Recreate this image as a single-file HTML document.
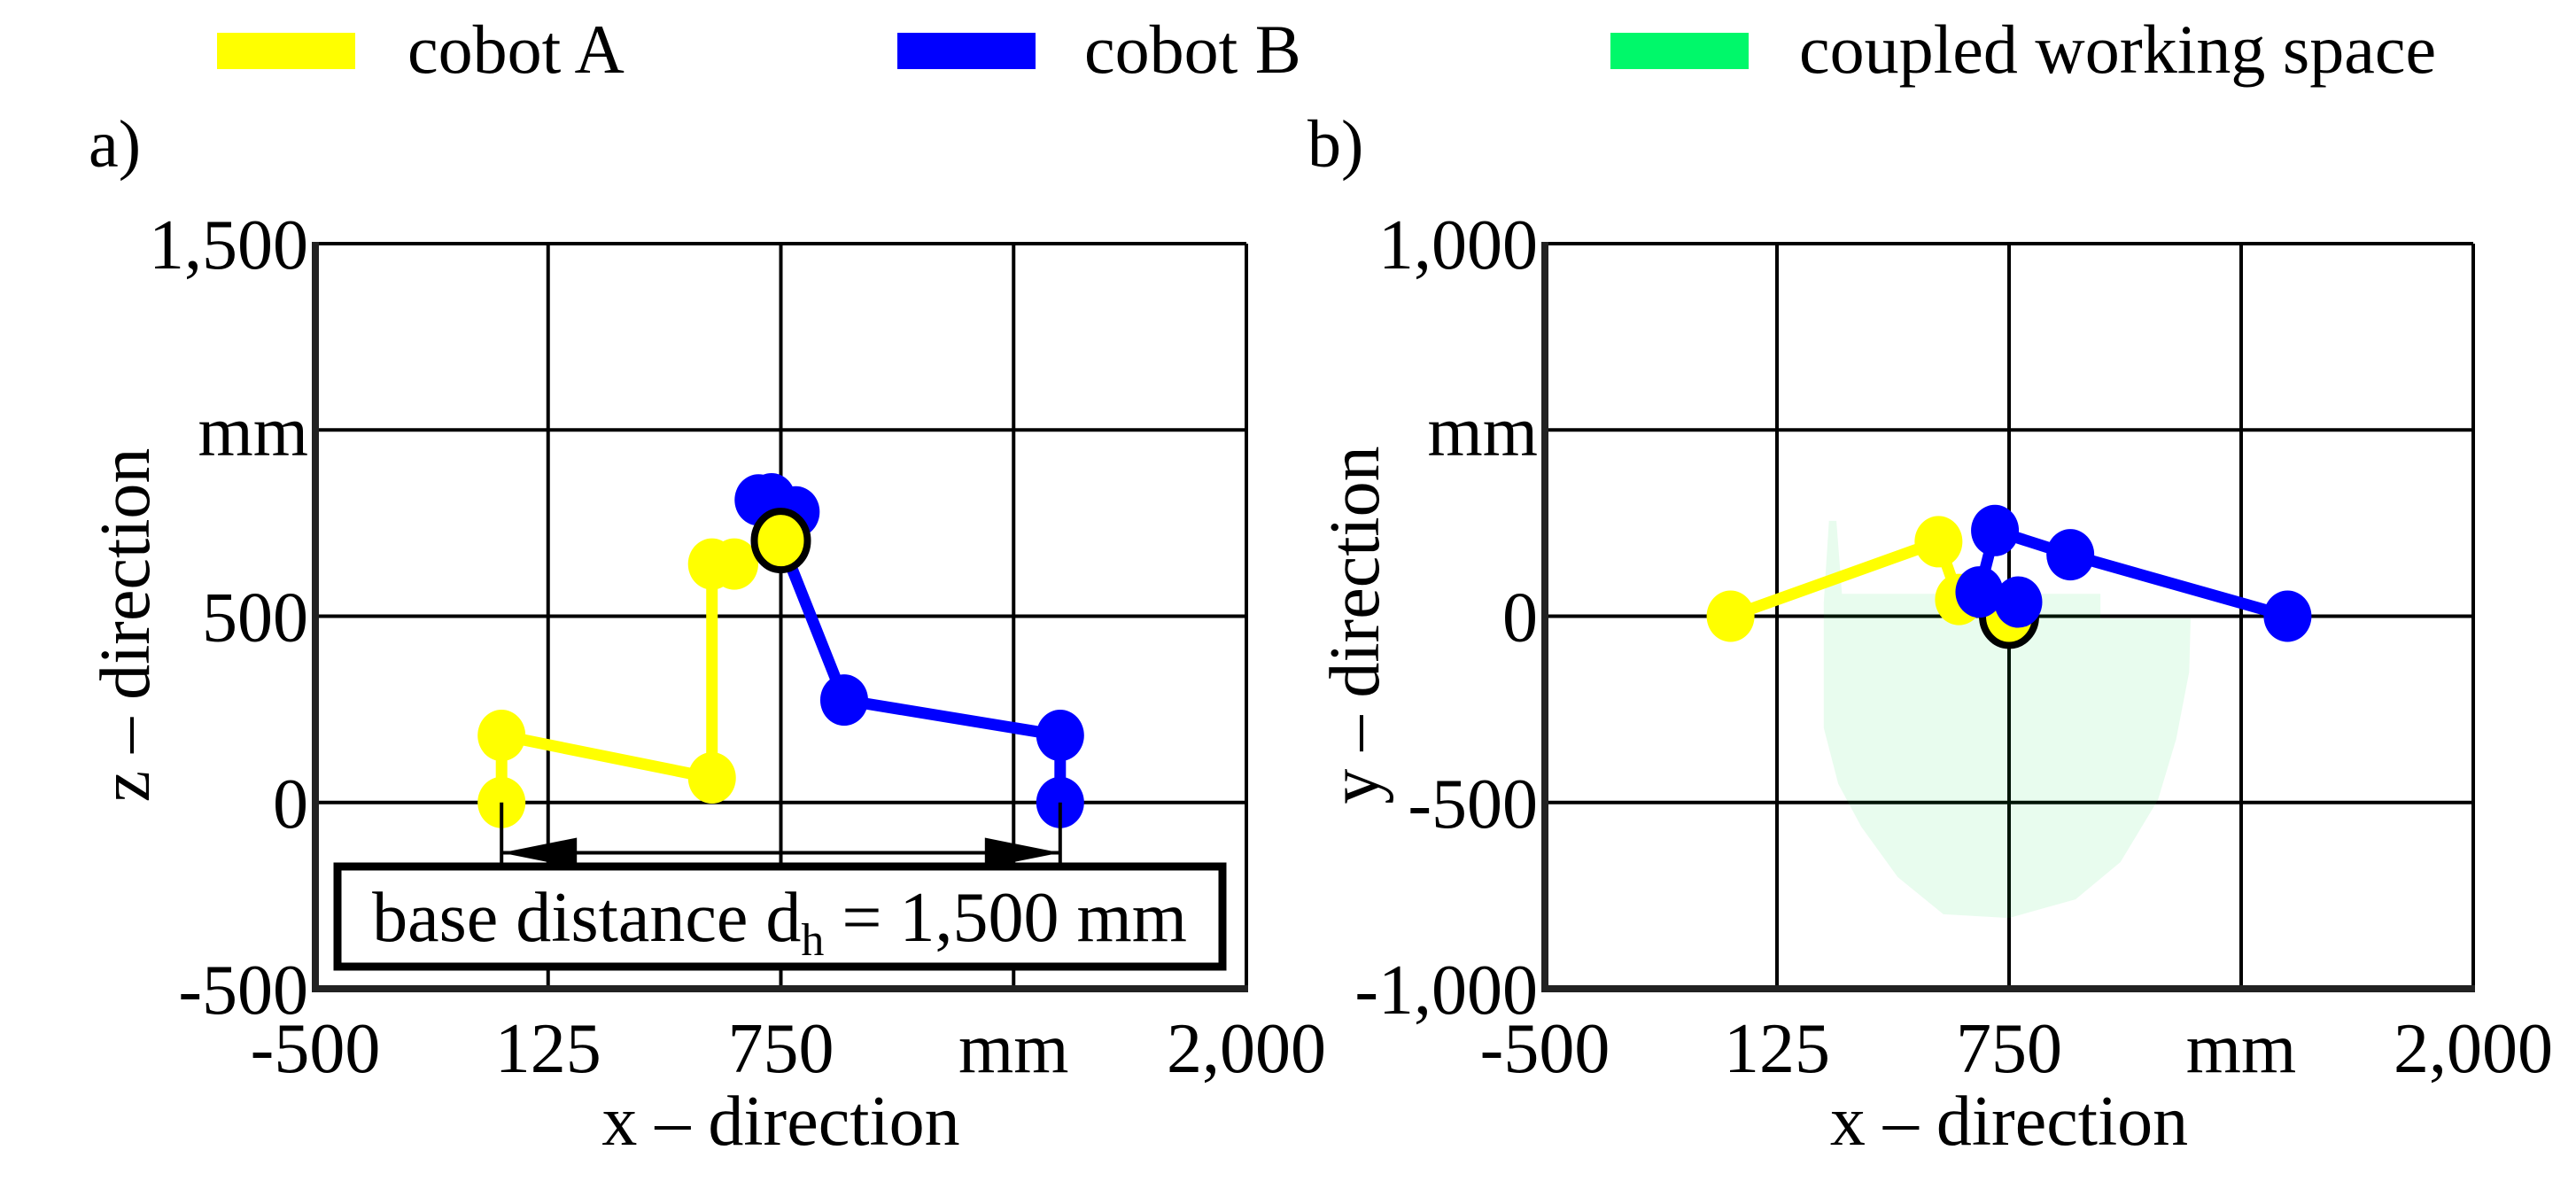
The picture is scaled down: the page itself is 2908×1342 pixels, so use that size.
<!DOCTYPE html>
<html><head><meta charset="utf-8"><style>
html,body{margin:0;padding:0;background:#fff;}
svg{display:block;font-family:"Liberation Serif",serif;}
</style></head><body>
<svg id="chart" width="2908" height="1342" viewBox="0 0 2908 1342" xmlns="http://www.w3.org/2000/svg">
<g>
<rect x="245" y="37" width="156" height="41" fill="#ffff00"/>
<text x="460" y="82" font-size="78">cobot A</text>
<rect x="1013" y="37" width="156" height="41" fill="#0000ff"/>
<text x="1224" y="82" font-size="78">cobot B</text>
<rect x="1818" y="37" width="156" height="41" fill="#00f86a"/>
<text x="2031" y="82" font-size="78">coupled working space</text>
</g>
<text x="100" y="188" font-size="76">a)</text>
<text x="1476" y="188" font-size="76">b)</text>
</svg>
<script>
const xTicks=[-500,125,750,1375,2000];
const xTickLabels=["-500","125","750","mm","2,000"];
const zTicks=[-500,0,500,1000,1500];
const zTickLabels=["-500","0","500","mm","1,500"];
const yTicks=[-1000,-500,0,500,1000];
const yTickLabels=["-1,000","-500","0","mm","1,000"];
// panel a (x-z)
const aYellowX=[0,0,565,565,625,750];
const aYellowZ=[0,180,66,640,640,703];
const aBlueX=[1500,1500,920,750,790,725,690];
const aBlueZ=[0,180,275,703,780,815,812];
const aEndX=[750];const aEndZ=[703];
// panel b (x-y)
const bYellowX=[0,560,615,750];
const bYellowY=[0,200,45,0];
const bBlueX=[1500,915,712,670,775];
const bBlueY=[0,165,230,65,38];
const bEndX=[750];const bEndY=[0];
const spaceX=[251,265,285,300,996,996,1239,1235,1200,1151,1050,929,750,573,450,352,290,251];
const spaceY=[37,256,256,60,60,-6,-6,-150,-330,-493,-660,-760,-810,-800,-700,-565,-450,-300];

const NS="http://www.w3.org/2000/svg";
const svg=document.getElementById('chart');
function el(t,a,p){const e=document.createElementNS(NS,t);for(const k in a)e.setAttribute(k,a[k]);(p||svg).appendChild(e);return e;}

function panel(name,L,R,T,B,xmin,xmax,ymin,ymax,yt,ytl,xtitle,ytitle){
  const g=el('g',{});
  
  
  const sx=v=>L+(v-xmin)/(xmax-xmin)*(R-L);
  const sy=v=>B-(v-ymin)/(ymax-ymin)*(B-T);
  xTicks.forEach((v,i)=>{
    const l=el('line',{x1:sx(v),x2:sx(v),y1:T,y2:B,stroke:'#000','stroke-width':4},g);
    
    
    const t=el('text',{x:sx(v),y:1210,'font-size':80,'text-anchor':'middle'},g);
    t.textContent=xTickLabels[i];
    
    
  });
  yt.forEach((v,i)=>{
    const l=el('line',{x1:L,x2:R,y1:sy(v),y2:sy(v),stroke:'#000','stroke-width':4},g);
    
    
    const t=el('text',{x:L-8,y:sy(v)+28,'font-size':80,'text-anchor':'end'},g);
    t.textContent=ytl[i];
    
    
  });
  const ax=el('path',{d:`M${L} ${T-2}V${B}H${R+2}`,stroke:'#222','stroke-width':8,fill:'none'},g);
  
  
  const xt=el('text',{x:(L+R)/2,y:1292,'font-size':80,'text-anchor':'middle'},g);
  xt.textContent=xtitle;
  
  
  const cx=L-188,cy=(T+B)/2+10;
  const yl=el('text',{x:cx,y:cy,'font-size':80,'text-anchor':'middle',transform:`rotate(-90 ${cx} ${cy})`},g);
  yl.textContent=ytitle;
  
  
  return {g,sx,sy};
}
function chain(p,xs,ys,color,name){
  const pts=xs.map((x,i)=>p.sx(x)+','+p.sy(ys[i])).join(' ');
  const pl=el('polyline',{points:pts,fill:'none',stroke:color,'stroke-width':13,'stroke-linejoin':'round'},p.g);
  
  
  xs.forEach((x,i)=>{
    const c=el('ellipse',{cx:p.sx(x),cy:p.sy(ys[i]),rx:27,ry:29,fill:color},p.g);
    
    
  });
}
function endpoint(p,xs,ys){
  const c=el('ellipse',{cx:p.sx(xs[0]),cy:p.sy(ys[0]),rx:30,ry:33,fill:'#ffff00',stroke:'#000','stroke-width':8},p.g);
  
  
}

const pa=panel('panel-a-xz',356,1407,275,1116,-500,2000,-500,1500,zTicks,zTickLabels,'x – direction','z – direction');
chain(pa,aYellowX,aYellowZ,'#ffff00','cobot-a');
chain(pa,aBlueX,aBlueZ,'#0000ff','cobot-b');
endpoint(pa,aEndX,aEndZ);
const y0=pa.sy(-135),xa=pa.sx(0),xb=pa.sx(1500);
const dim=el('g',{},pa.g);


el('line',{x1:xa,x2:xa,y1:pa.sy(0),y2:y0+45,stroke:'#000','stroke-width':4},dim);
el('line',{x1:xb,x2:xb,y1:pa.sy(0),y2:y0+45,stroke:'#000','stroke-width':4},dim);
el('line',{x1:xa,x2:xb,y1:y0,y2:y0,stroke:'#000','stroke-width':4},dim);
el('polygon',{points:`${xa},${y0} ${xa+85},${y0-17} ${xa+85},${y0+17}`,fill:'#000'},dim);
el('polygon',{points:`${xb},${y0} ${xb-85},${y0-17} ${xb-85},${y0+17}`,fill:'#000'},dim);
const box=el('rect',{x:381,y:978,width:999,height:113,fill:'#fff',stroke:'#000','stroke-width':9},pa.g);


const bt=el('text',{x:880,y:1062,'font-size':80,'text-anchor':'middle'},pa.g);
bt.innerHTML='base distance d<tspan font-size="52" dy="16">h</tspan><tspan dy="-16"> = 1,500 mm</tspan>';



const pb=panel('panel-b-xy',1744,2792,275,1116,-500,2000,-1000,1000,yTicks,yTickLabels,'x – direction','y – direction');
const sp=el('polygon',{points:spaceX.map((x,i)=>pb.sx(x)+','+pb.sy(spaceY[i])).join(' '),fill:'#00e040','fill-opacity':0.09},pb.g);


chain(pb,bYellowX,bYellowY,'#ffff00','cobot-a');
endpoint(pb,bEndX,bEndY);
chain(pb,bBlueX,bBlueY,'#0000ff','cobot-b');
</script>
</body></html>
